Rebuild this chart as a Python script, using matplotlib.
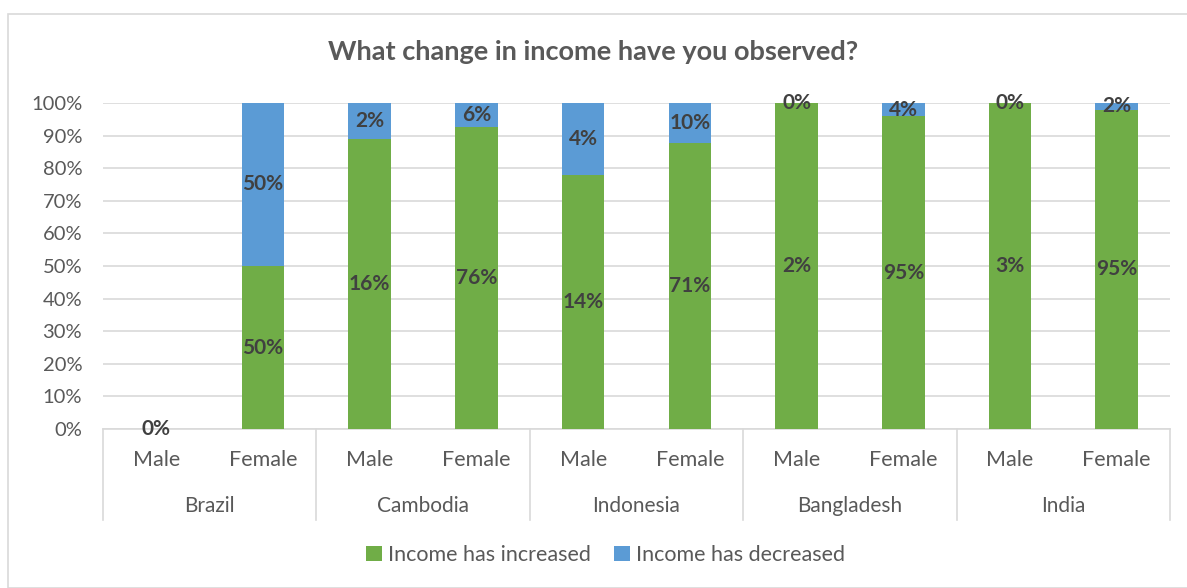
import numpy as np
import matplotlib.pyplot as plt
from matplotlib.patches import Rectangle

# Dados (valores brutos dos rótulos; as barras são normalizadas a 100%)
countries = ['Brazil', 'Cambodia', 'Indonesia', 'Bangladesh', 'India']
genders = ['Male', 'Female']
increased = [0, 50, 16, 76, 14, 71, 2, 95, 3, 95]
decreased = [0, 50, 2, 6, 4, 10, 0, 4, 0, 2]

plt.rcParams['font.family'] = ['Lato', 'DejaVu Sans']

green = '#70AD47'
blue = '#5B9BD5'
label_col = '#404040'
tick_col = '#595959'
grid_col = '#D9D9D9'

inc = np.array(increased, dtype=float)
dec = np.array(decreased, dtype=float)
tot = inc + dec
share_inc = np.divide(inc, tot, out=np.zeros_like(inc), where=tot > 0) * 100
share_dec = np.divide(dec, tot, out=np.zeros_like(dec), where=tot > 0) * 100

fig = plt.figure(figsize=(11.87, 5.88), dpi=100)
fig.patches.append(Rectangle((8 / 1187, 0), 1.0, 1 - 14 / 588, transform=fig.transFigure,
                             fill=False, edgecolor=grid_col, linewidth=1.2))

ax = fig.add_axes([103 / 1187, 1 - 429 / 588, (1170 - 103) / 1187, (429 - 103) / 588])
x = np.arange(len(increased))
w = 0.4
ax.bar(x, share_inc, w, color=green, label='Income has increased', zorder=3)
ax.bar(x, share_dec, w, bottom=share_inc, color=blue, label='Income has decreased', zorder=3)

# rótulos de dados
for i in range(len(x)):
    ax.text(x[i], share_inc[i] / 2, f'{increased[i]}%', ha='center', va='center',
            fontsize=15, fontweight='bold', color=label_col, zorder=4)
    if tot[i] > 0:
        ax.text(x[i], share_inc[i] + share_dec[i] / 2, f'{decreased[i]}%', ha='center',
                va='center', fontsize=15, fontweight='bold', color=label_col, zorder=4)

ax.set_xlim(-0.5, len(x) - 0.5)
ax.set_ylim(0, 100)
ax.set_yticks(np.arange(0, 101, 10))
ax.set_yticklabels([f'{v}%' for v in range(0, 101, 10)])
ax.yaxis.grid(True, color=grid_col, linewidth=1.2, zorder=0)
ax.tick_params(axis='y', length=0, pad=15, labelsize=14.5, labelcolor=tick_col)

ax.set_xticks(x)
ax.set_xticklabels(genders * len(countries))
ax.tick_params(axis='x', length=0, pad=15, labelsize=15.5, labelcolor=tick_col)

for s in ['top', 'right', 'left']:
    ax.spines[s].set_visible(False)
ax.spines['bottom'].set_color(grid_col)
ax.spines['bottom'].set_linewidth(1.2)

# linhas de agrupamento e nomes dos países
trans = ax.get_xaxis_transform()
depth = -(520 - 429) / 326
for b in np.arange(-0.5, len(x), 2):
    ax.plot([b, b], [0, depth], transform=trans, color=grid_col, linewidth=1.2, clip_on=False)
for j, c in enumerate(countries):
    ax.text(2 * j + 0.5, -(506 - 429) / 326, c, transform=trans, ha='center', va='center',
            fontsize=15, color=tick_col)

fig.text(0.5, 1 - 52 / 588, 'What change in income have you observed?', ha='center', va='center',
         fontsize=19.5, fontweight='bold', color=tick_col)

fig.legend(loc='center', bbox_to_anchor=(0.51, 1 - 555 / 588), ncol=2, frameon=False,
           fontsize=15.5, handlelength=0.75, handleheight=0.75, handletextpad=0.25,
           columnspacing=1.1, labelcolor=tick_col)

fig.savefig('out.png', dpi=100)
